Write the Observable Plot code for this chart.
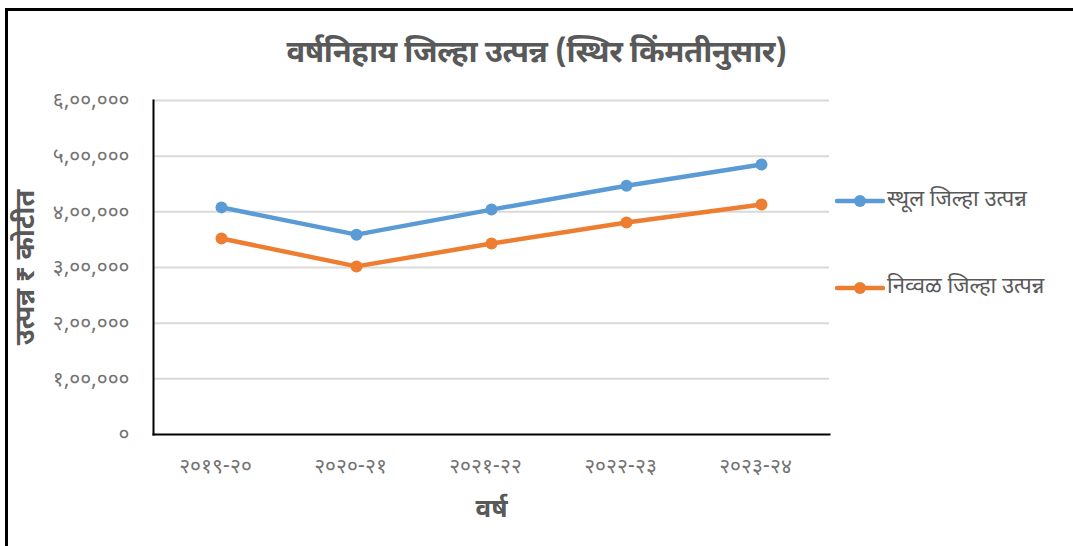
<!DOCTYPE html>
<html>
<head>
<meta charset="utf-8">
<script src="https://cdn.jsdelivr.net/npm/d3@7"></script>
<script src="https://cdn.jsdelivr.net/npm/@observablehq/plot@0.6"></script>
<style>
  html, body { margin: 0; padding: 0; background: #fff; }
  body { width: 1073px; height: 546px; overflow: hidden; position: relative;
         font-family: "Noto Sans Devanagari", "Noto Sans", "Lohit Devanagari", sans-serif; }
  #border { position: absolute; left: 5px; top: 8px; width: 1080px; height: 600px;
            border-left: 3px solid #000; border-top: 3px solid #000; box-sizing: border-box; }
  #title { position: absolute; left: 0; width: 1073px; top: 34px; text-align: center;
           font-size: 31px; font-weight: bold; color: #595959; letter-spacing: -0.5px; }
  #chart { position: absolute; left: 0; top: 0; }
  .leg { position: absolute; left: 835px; display: flex; align-items: center;
         font-size: 22px; color: #595959; }
  .leg svg { margin-right: 2px; }
</style>
</head>
<body>
<div id="border"></div>
<div id="chart"></div>
<div id="title">वर्षनिहाय जिल्हा उत्पन्न (स्थिर किंमतीनुसार)</div>
<div id="legend"></div>
<script>
const years = ["२०१९-२०", "२०२०-२१", "२०२१-२२", "२०२२-२३", "२०२३-२४"];
const grossValues = [408000, 359000, 404000, 447000, 485000];
const netValues = [352000, 302000, 343000, 381000, 413000];
const seriesNames = ["स्थूल जिल्हा उत्पन्न", "निव्वळ जिल्हा उत्पन्न"];
const seriesColors = ["#5b9bd5", "#ed7d31"];
const yTicks = [0, 100000, 200000, 300000, 400000, 500000, 600000];
const yTickLabels = ["०", "१,००,०००", "२,००,०००", "३,००,०००", "४,००,०००", "५,००,०००", "६,००,०००"];
const yLabel = "उत्पन्न ₹ कोटीत";
const xLabel = "वर्ष";

const data = [];
years.forEach((y, i) => {
  data.push({year: y, value: grossValues[i], series: seriesNames[0]});
  data.push({year: y, value: netValues[i], series: seriesNames[1]});
});

const fontFam = '"Noto Sans Devanagari", "Noto Sans", "Lohit Devanagari", sans-serif';

const chart = Plot.plot({
  width: 1073,
  height: 546,
  marginLeft: 153,
  marginRight: 244,
  marginTop: 100,
  marginBottom: 112,
  style: {fontFamily: fontFam, fontSize: "21px", color: "#737373", background: "transparent"},
  x: {type: "point", domain: years, padding: 0.5, label: null},
  y: {domain: [0, 600000], label: null},
  color: {domain: seriesNames, range: seriesColors},
  marks: [
    Plot.ruleY(yTicks.slice(1), {stroke: "#d9d9d9", strokeWidth: 2}),
    Plot.frame({anchor: "left", stroke: "#000", strokeWidth: 2}),
    Plot.frame({anchor: "bottom", stroke: "#000", strokeWidth: 2}),
    Plot.axisY({ticks: yTicks, tickFormat: (d) => yTickLabels[yTicks.indexOf(d)], tickSize: 0, tickPadding: 24, fontSize: 21, label: null}),
    Plot.axisX({tickSize: 0, tickPadding: 24, fontSize: 21, dx: -6, label: null}),
    Plot.line(data, {x: "year", y: "value", stroke: "series", strokeWidth: 4.5, strokeLinecap: "round", strokeLinejoin: "round"}),
    Plot.dot(data, {x: "year", y: "value", fill: "series", r: 6}),
    Plot.text([yLabel], {frameAnchor: "left", dx: -128, rotate: -90, textAnchor: "middle", fontSize: 27, fontWeight: "bold", fill: "#595959"}),
    Plot.text([xLabel], {frameAnchor: "bottom", dy: 82, fontSize: 26, fontWeight: "bold", fill: "#595959"})
  ]
});
document.getElementById("chart").appendChild(chart);

const legend = document.getElementById("legend");
const legendTops = [186, 273];
seriesNames.forEach((name, i) => {
  const d = document.createElement("div");
  d.className = "leg";
  d.style.top = legendTops[i] + "px";
  d.innerHTML = `<svg width="50" height="14"><line x1="2" y1="7" x2="48" y2="7" stroke="${seriesColors[i]}" stroke-width="4.5" stroke-linecap="round"/><circle cx="25" cy="7" r="6" fill="${seriesColors[i]}"/></svg><span>${name}</span>`;
  legend.appendChild(d);
});
</script>
</body>
</html>
